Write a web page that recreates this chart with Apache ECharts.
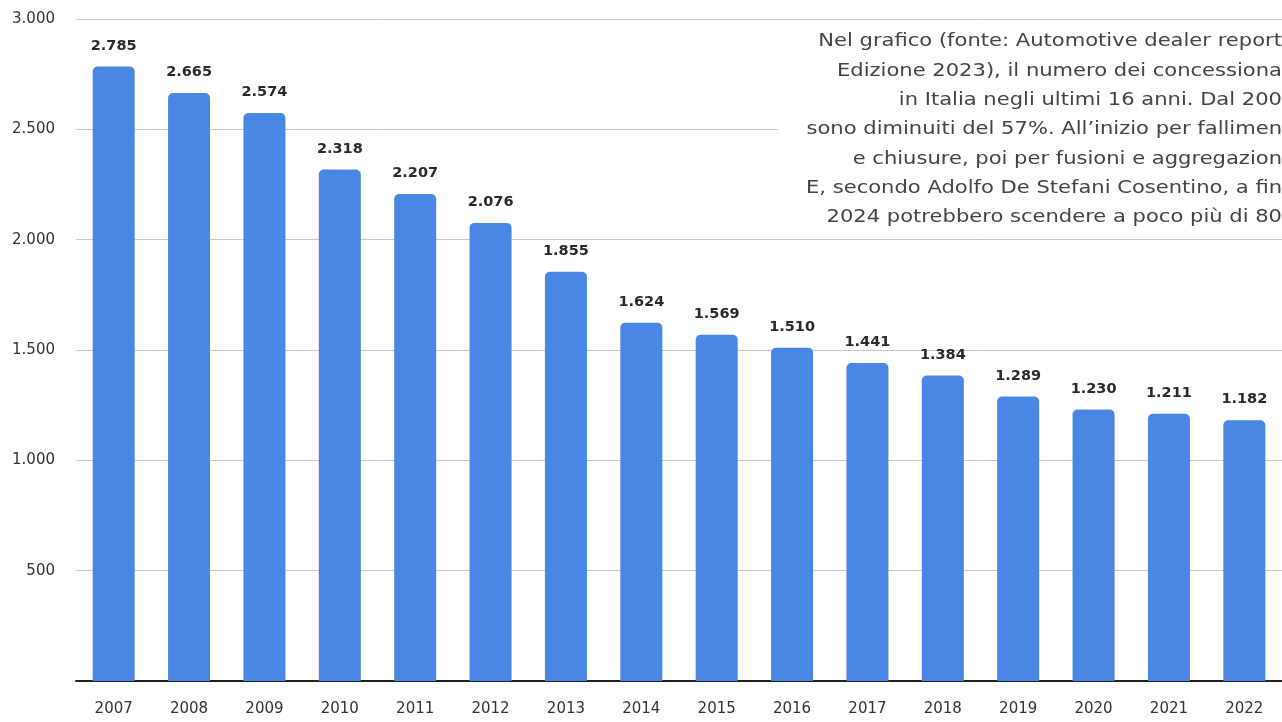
<!DOCTYPE html>
<html>
<head>
<meta charset="utf-8">
<script src="https://cdn.jsdelivr.net/npm/echarts@6/dist/echarts.min.js"></script>
<style>
html,body{margin:0;padding:0;background:#fff;}
#chart{width:1282px;height:722px;}
</style>
</head>
<body>
<div id="chart"></div>
<script>
const years = ['2007','2008','2009','2010','2011','2012','2013','2014','2015','2016','2017','2018','2019','2020','2021','2022'];
const dealers = [2785, 2665, 2574, 2318, 2207, 2076, 1855, 1624, 1569, 1510, 1441, 1384, 1289, 1230, 1211, 1182];
const noteLines = [
  'Nel grafico (fonte: Automotive dealer report',
  'Edizione 2023), il numero dei concessiona',
  'in Italia negli ultimi 16 anni. Dal 200',
  'sono diminuiti del 57%. All\u2019inizio per fallimen',
  'e chiusure, poi per fusioni e aggregazion',
  'E, secondo Adolfo De Stefani Cosentino, a fin',
  '2024 potrebbero scendere a poco più di 80'
];

function itNum(v){
  const s = String(Math.round(v));
  return s.replace(/\B(?=(\d{3})+(?!\d))/g, '.');
}

const FONT = '"DejaVu Sans", "Open Sans", sans-serif';
const chart = echarts.init(document.getElementById('chart'));
chart.setOption({
  backgroundColor: '#ffffff',
  animation: false,
  grid: { left: 76, top: 19, width: 1224, height: 662, containLabel: false },
  xAxis: {
    type: 'category',
    data: years,
    axisLine: { show: true, lineStyle: { color: '#222', width: 2 } },
    axisTick: { show: false },
    axisLabel: { color: '#333', fontSize: 15, fontFamily: FONT, margin: 21 }
  },
  yAxis: {
    type: 'value',
    min: 0, max: 3000, interval: 500,
    axisLine: { show: false },
    axisTick: { show: false },
    splitLine: { lineStyle: { color: '#c8c8c8', width: 1 } },
    axisLabel: {
      color: '#333', fontSize: 15, fontFamily: FONT, margin: 21,
      formatter: v => v === 0 ? '' : itNum(v)
    }
  },
  series: [{
    type: 'bar',
    data: dealers,
    barWidth: 42,
    itemStyle: { color: '#4a86e3', borderRadius: [5,5,0,0] },
    label: {
      show: true, position: 'top', distance: 13,
      color: '#2a2a2a', fontSize: 14.5, fontWeight: 'bold', fontFamily: FONT,
      formatter: p => itNum(p.value)
    }
  }],
  graphic: [
    { type: 'rect', shape: { x: 778, y: 24, width: 504, height: 212 }, style: { fill: '#ffffff' }, z: 50 },
    { type: 'text', x: 1282, y: 27, z: 51, scaleX: 1.17,
      style: { text: noteLines.join('\n'), align: 'right', verticalAlign: 'top',
        fill: '#444', fontSize: 18, fontFamily: FONT, lineHeight: 29.3 } }
  ]
});
</script>
</body>
</html>
